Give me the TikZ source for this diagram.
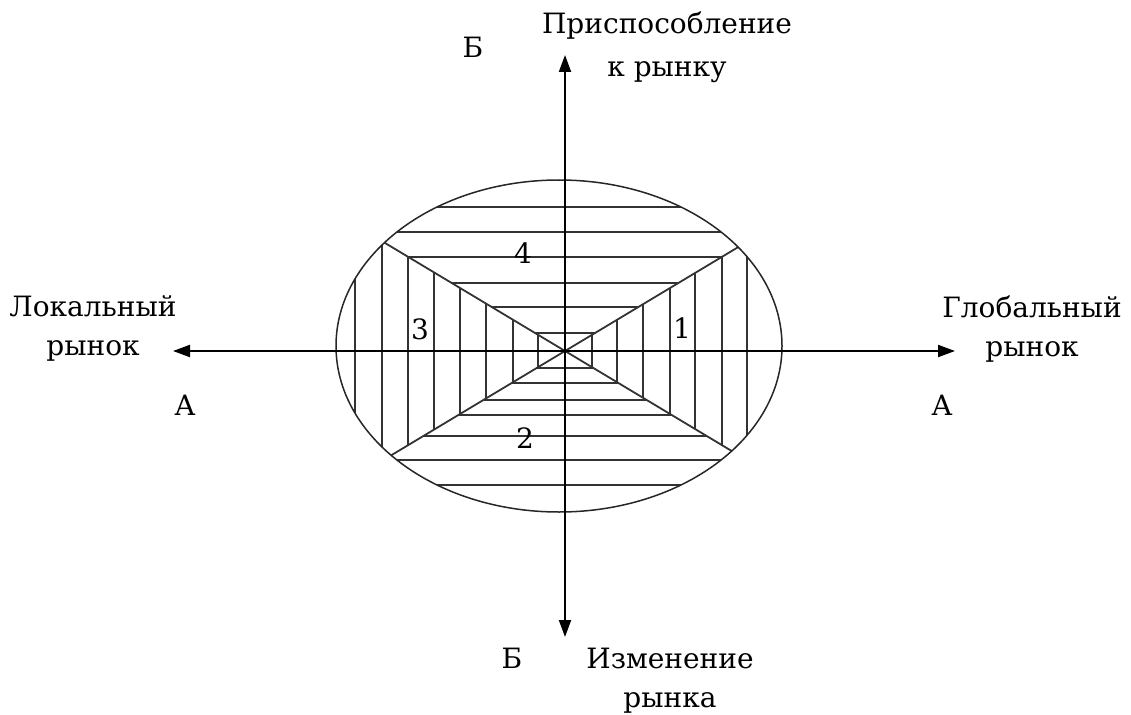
\documentclass[tikz,border=0pt]{standalone}
\usepackage{fontspec}
\setmainfont{DejaVu Serif}
\usepackage{tikz}
\usetikzlibrary{arrows.meta,calc}

\begin{document}
\begin{tikzpicture}[
  x=1pt,y=-1pt,
  font=\fontsize{28}{39}\selectfont,
  axis/.style={{Triangle[length=17pt,width=12pt]}-{Triangle[length=17pt,width=12pt]},line width=2pt},
  hatch/.style={line width=1.8pt,black!80},
  rim/.style={line width=1.5pt,black!85},
  lbl/.style={inner sep=0pt,anchor=base,align=center},
]
\useasboundingbox (0,0) rectangle (1131,714);
\coordinate (O) at (565,351);
\coordinate (E) at (559,346);

% hatched ellipse, four sectors
\begin{scope}
  \clip (E) ellipse [x radius=223pt,y radius=166pt];
  % 1: right
  \begin{scope}
    \clip (O) -- ++(400,-240) -- ++(0,480) -- cycle;
    \foreach \d in {27,52,78,105,130,157,182}
      \draw[hatch] ($(O)+(\d,-250)$) -- ++(0,500);
  \end{scope}
  % 2: bottom
  \begin{scope}
    \clip (O) -- ++(-400,240) -- ++(800,0) -- cycle;
    \foreach \d in {17,32,49,64,85,109,134}
      \draw[hatch] ($(O)+(-300,\d)$) -- ++(600,0);
  \end{scope}
  % 3: left
  \begin{scope}
    \clip (O) -- ++(-400,-240) -- ++(0,480) -- cycle;
    \foreach \d in {27,52,79,105,131,157,183,210}
      \draw[hatch] ($(O)+(-\d,-250)$) -- ++(0,500);
  \end{scope}
  % 4: top
  \begin{scope}
    \clip (O) -- ++(-400,-240) -- ++(800,0) -- cycle;
    \foreach \d in {18,44,68,94,119,144}
      \draw[hatch] ($(O)+(-300,-\d)$) -- ++(600,0);
  \end{scope}
  \draw[hatch] ($(O)+(-400,-240)$) -- ($(O)+(400,240)$);
  \draw[hatch] ($(O)+(-400,240)$) -- ($(O)+(400,-240)$);
\end{scope}
\draw[rim] (E) ellipse [x radius=223pt,y radius=166pt];

% axes
\coordinate (xl) at (173,351);
\coordinate (xr) at (955,351);
\coordinate (yt) at (565,55);
\coordinate (yb) at (565,637);
\draw[axis] (xl) -- (xr);
\draw[axis] (yb) -- (yt);

% sector numbers
\node[lbl] (n1) at (682,338) {1};
\node[lbl] (n2) at (525,448) {2};
\node[lbl] (n3) at (420,339) {3};
\node[lbl] (n4) at (523,263) {4};

% axis labels (base = last line)
\node[lbl] (adapt) at (667,77) {Приспособление\\[4pt]к рынку};
\node[lbl] (change) at (670,707) {Изменение\\рынка};
\node[lbl] (local) at (93,355) {Локальный\\рынок};
\node[lbl] (global) at (1032,356) {Глобальный\\рынок};
\node[lbl] (bt) at (473,58) {Б};
\node[lbl] (bb) at (512,668) {Б};
\node[lbl] (al) at (185,415) {А};
\node[lbl] (ar) at (942,415) {А};
\end{tikzpicture}
\end{document}
